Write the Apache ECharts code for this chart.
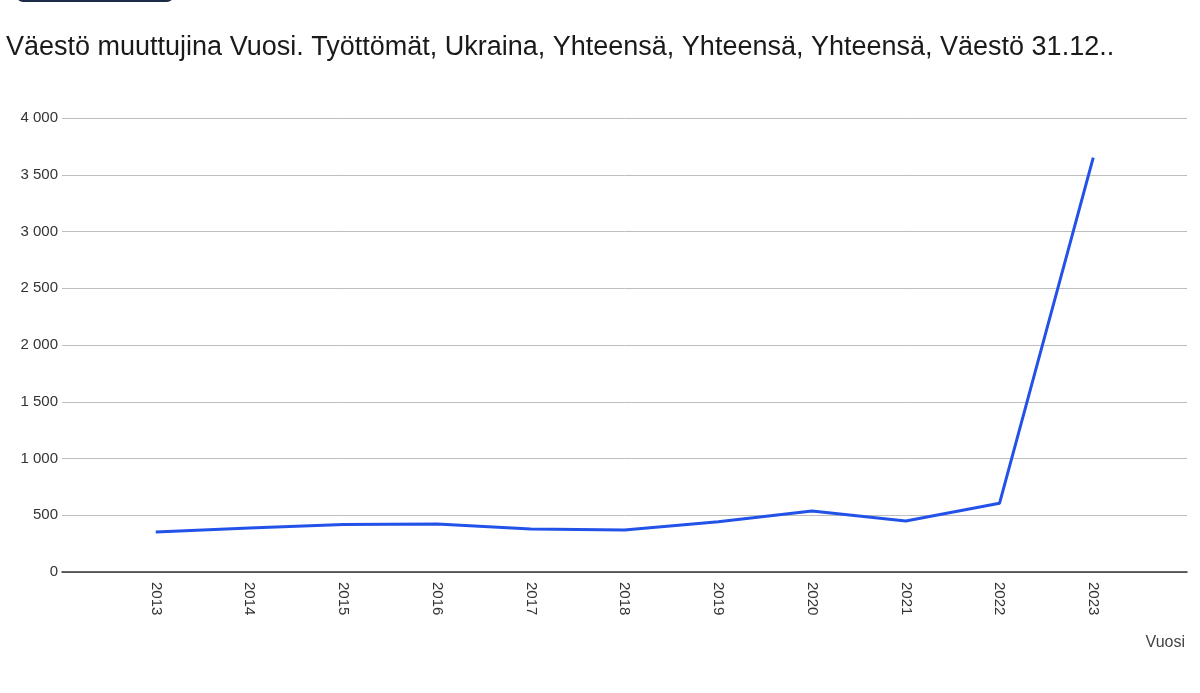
<!DOCTYPE html>
<html>
<head>
<meta charset="utf-8">
<script src="https://cdn.jsdelivr.net/npm/echarts@6/dist/echarts.min.js"></script>
<style>
html,body{margin:0;padding:0;background:#fff;}
#c{width:1200px;height:693px;}
</style>
</head>
<body>
<div id="c"></div>
<script>
const titleText = 'Väestö muuttujina Vuosi. Työttömät, Ukraina, Yhteensä, Yhteensä, Yhteensä, Väestö 31.12..';
const years = [2013, 2014, 2015, 2016, 2017, 2018, 2019, 2020, 2021, 2022, 2023];
const values = [352, 388, 418, 422, 378, 370, 443, 537, 449, 605, 3650];
const yTicks = [0, 500, 1000, 1500, 2000, 2500, 3000, 3500, 4000];
const xAxisName = 'Vuosi';

const fmt = v => String(v).replace(/\B(?=(\d{3})+(?!\d))/g, ' ');

const chart = echarts.init(document.getElementById('c'), null, {renderer: 'canvas'});
chart.setOption({
  animation: false,
  backgroundColor: '#ffffff',
  textStyle: {fontFamily: 'Liberation Sans, Arial, sans-serif'},
  title: {
    text: titleText,
    left: 1, top: 29,
    textStyle: {fontSize: 27, fontWeight: 'normal', color: '#1a1a1a', fontFamily: 'Liberation Sans, Arial, sans-serif'}
  },
  graphic: [
    {type: 'rect', left: 17, top: -10, shape: {width: 156, height: 12, r: 6}, style: {fill: '#1c2a45'}},
    {type: 'text', right: 15, top: 635, style: {text: xAxisName, fontSize: 16, fill: '#444', fontFamily: 'Liberation Sans, Arial, sans-serif'}}
  ],
  grid: {left: 62, right: 13, top: 118, bottom: 121, containLabel: false},
  xAxis: {
    type: 'value',
    min: years[0] - 1,
    max: years[years.length - 1] + 1,
    interval: 1,
    axisLine: {show: true, onZero: false, lineStyle: {color: '#333', width: 1.5}},
    axisTick: {show: false},
    splitLine: {show: false},
    axisLabel: {
      rotate: -90,
      fontSize: 15,
      color: '#333',
      margin: 10,
      showMinLabel: false,
      showMaxLabel: false,
      formatter: v => (years.indexOf(v) >= 0 ? String(v) : '')
    }
  },
  yAxis: {
    type: 'value',
    min: yTicks[0],
    max: yTicks[yTicks.length - 1],
    interval: 500,
    axisLine: {show: false},
    axisTick: {show: false},
    splitLine: {lineStyle: {color: '#bdbdbd', width: 1}},
    axisLabel: {fontSize: 15, color: '#333', margin: 4, formatter: v => fmt(v)}
  },
  series: [{
    type: 'line',
    data: years.map((y, i) => [y, values[i]]),
    showSymbol: false,
    lineStyle: {color: '#2352e8', width: 3},
    itemStyle: {color: '#2352e8'},
    z: 5
  }]
});
</script>
</body>
</html>
